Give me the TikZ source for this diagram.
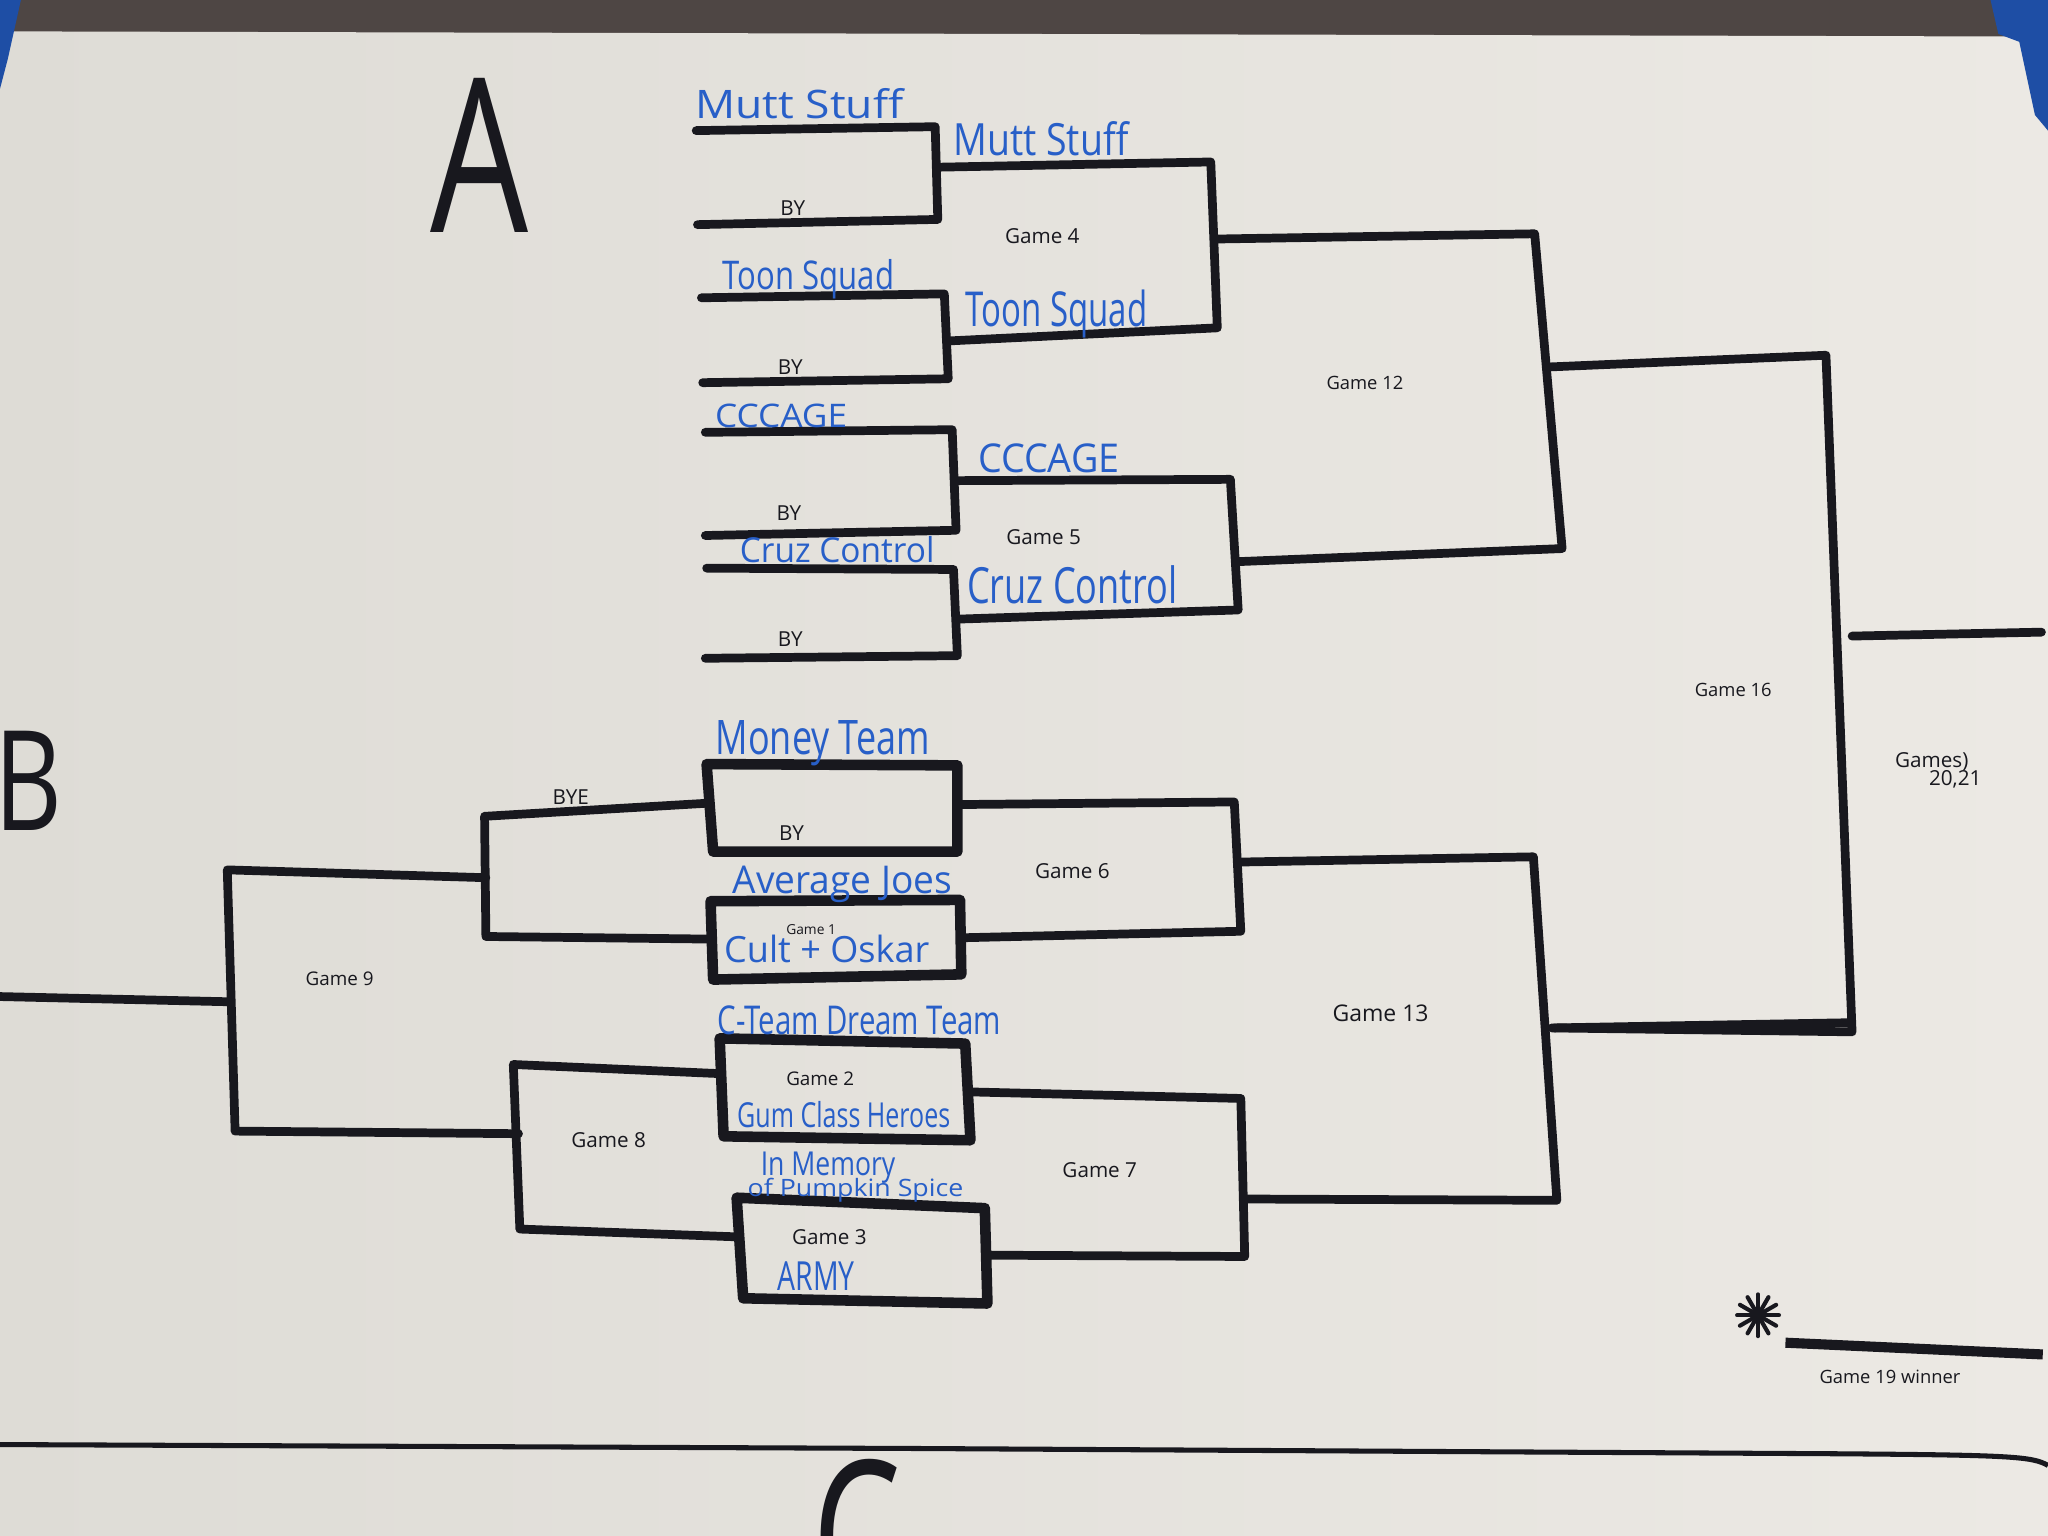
\documentclass[tikz,border=0pt]{standalone}
\usepackage{fontspec}
\usepackage{graphicx}
\newfontfamily\hand{Open Sans}

\definecolor{ink}{RGB}{24,24,30}
\definecolor{mblue}{RGB}{40,95,200}
\definecolor{carpet}{RGB}{78,70,68}
\definecolor{tape}{RGB}{30,78,165}
\definecolor{paperL}{RGB}{222,220,214}
\definecolor{paperR}{RGB}{236,233,228}

% width, height (mm), text
\newcommand\handfit[3]{\resizebox{#1mm}{#2mm}{#3}}

\begin{document}
\begin{tikzpicture}[
    x=0.01cm, y=-0.01cm,
    bk/.style={draw=ink, line width=1.9pt, line join=round, line cap=round},
    bx/.style={draw=ink, line width=2.3pt, line join=round},
    team/.style={text=mblue, font=\hand, inner sep=0pt, anchor=base},
    gl/.style={text=ink, font=\hand\fontsize{4.5}{5}\selectfont, inner sep=0pt},
    big/.style={text=ink, font=\hand, inner sep=0pt}
]

\useasboundingbox (0,0) rectangle (1568,1176);
\clip (0,0) rectangle (1568,1176);

% floor, paper, tape
\fill[carpet] (0,0) rectangle (1568,32);
\shade[left color=paperL, right color=paperR]
    (0,24) -- (1568,28) -- (1568,1176) -- (0,1176) -- cycle;
\fill[tape] (0,0) -- (16,0) -- (6,45) -- (0,68) -- cycle;
\fill[tape] (1524,0) -- (1568,0) -- (1568,100) -- (1558,88)
    -- (1546,32) -- (1530,26) -- cycle;
% edge of the next sheet
\draw[ink, line width=1.1pt] (0,1106) -- (700,1109) -- (1400,1113)
    .. controls (1540,1114) and (1556,1115) .. (1568,1122);

% big letters
\node[big] (la) at (367,119) {\handfit{7.5}{11.8}{A}};
\node[big] (lb) at (22,598) {\handfit{5.2}{7.6}{B}};
\node[big] (lc) at (656,1177) {\handfit{6.8}{11.8}{C}};

%% Bracket A
% first round
\draw[bk] (533,100) -- (716,97) -- (718,168) -- (534,172);
\draw[bk] (537,228) -- (723,225) -- (726,290) -- (538,293);
\draw[bk] (540,331) -- (729,329) -- (732,406) -- (540,410);
\draw[bk] (541,435) -- (730,436) -- (733,502) -- (540,504);
% Game 4, Game 5
\draw[bk] (719,128) -- (927,124) -- (932,251) -- (727,261);
\draw[bk] (733,368) -- (942,367) -- (948,467) -- (734,474);
% Game 12
\draw[bk] (932,183) -- (1175,179) -- (1196,420) -- (948,430);
% Game 16
\draw[bk] (1185,281) -- (1398,272) -- (1418,790) -- (1188,787);
\draw[bk] (1418,487) -- (1563,484);

\node[team] (ms1) at (612,91) {\handfit{15.9}{2.3}{Mutt Stuff}};
\node[team] (ms2) at (797,119) {\handfit{13.4}{2.6}{Mutt Stuff}};
\node[team] (ts1) at (619,222) {\handfit{13.1}{2.3}{Toon Squad}};
\node[team] (ts2) at (809,250) {\handfit{13.9}{2.8}{Toon Squad}};
\node[team] (cc1) at (598,327) {\handfit{10.1}{1.8}{CCCAGE}};
\node[team] (cc2) at (803,362) {\handfit{10.8}{2.2}{CCCAGE}};
\node[team] (cz1) at (641,431) {\handfit{14.9}{2.0}{Cruz Control}};
\node[team] (cz2) at (821,462) {\handfit{16.1}{2.9}{Cruz Control}};

\node[gl] (by1) at (607,159) {BY};
\node[gl] (by2) at (605,281) {BY};
\node[gl] (by3) at (604,393) {BY};
\node[gl] (by4) at (605,489) {BY};
\node[gl] (g4) at (798,181) {Game 4};
\node[gl] (g5) at (799,411) {Game 5};
\node[gl, font=\hand\fontsize{4}{5}\selectfont] (g12) at (1045,293) {Game 12};
\node[gl, font=\hand\fontsize{4}{5}\selectfont] (g16) at (1327,528) {Game 16};
\node[gl] (g20a) at (1479,583) {Games)};
\node[gl] (g20b) at (1497,597) {20,21};

%% Bracket B
% boxes
\draw[bx] (541,585) -- (733,586) -- (733,652) -- (546,652) -- cycle;
\draw[bx] (544,690) -- (735,689) -- (736,746) -- (546,750) -- cycle;
\draw[bx] (551,795) -- (739,799) -- (743,873) -- (554,870) -- cycle;
\draw[bx] (564,917) -- (754,925) -- (756,998) -- (569,994) -- cycle;
% BYE, Game 8, Game 9
\draw[bk] (541,615) -- (371,625) -- (372,717) -- (544,719);
\draw[bk] (551,822) -- (393,815) -- (398,941) -- (565,947);
\draw[bk] (372,672) -- (174,666) -- (180,866) -- (397,868);
\draw[bk] (0,763) -- (176,767);
% Game 6, Game 7
\draw[bk] (733,616) -- (945,614) -- (950,713) -- (736,718);
\draw[bk] (743,836) -- (950,841) -- (953,962) -- (756,961);
% Game 13
\draw[bk] (950,660) -- (1174,656) -- (1192,919) -- (955,918);
\draw[bk] (1190,787) -- (1417,783);

\node[team] (mt) at (630,578) {\handfit{16.4}{2.6}{Money Team}};
\node[team] (aj) at (645,684) {\handfit{16.8}{2.1}{Average Joes}};
\node[team] (co) at (633,737) {\handfit{15.7}{2.1}{Cult + Oskar}};
\node[team] (ct) at (658,792) {\handfit{21.7}{2.2}{C-Team Dream Team}};
\node[team] (gc) at (646,863) {\handfit{16.3}{2.0}{Gum Class Heroes}};
\node[team] (im) at (634,900) {\handfit{10.3}{1.8}{In Memory}};
\node[team] (pk) at (655,916) {\handfit{16.5}{1.4}{of Pumpkin Spice}};
\node[team] (army) at (625,988) {\handfit{5.9}{2.2}{ARMY}};

\node[gl] (by5) at (606,638) {BY};
\node[gl] (bye) at (437,610) {BYE};
\node[gl] (g6) at (821,667) {Game 6};
\node[gl, font=\hand\fontsize{3}{4}\selectfont] (g1) at (621,712) {Game 1};
\node[gl, font=\hand\fontsize{4.1}{5}\selectfont] (g9) at (260,749) {Game 9};
\node[gl, font=\hand\fontsize{5}{6}\selectfont] (g13) at (1057,776) {Game 13};
\node[gl, font=\hand\fontsize{4.1}{5}\selectfont] (g2) at (628,826) {Game 2};
\node[gl] (g8) at (466,873) {Game 8};
\node[gl] (g7) at (842,896) {Game 7};
\node[gl] (g3) at (635,947) {Game 3};

%% Game 19 winner
\coordinate (star) at (1346,1007);
\foreach \a in {0,30,...,150}
    \draw[ink, line width=0.9pt, line cap=round] (star) +(\a:16) -- +(\a+180:16);
\coordinate (w19) at (1367,1028);
\draw[ink, line width=2.2pt] (w19) -- (1564,1037);
\node[gl, font=\hand\fontsize{4}{5}\selectfont] (g19) at (1447,1054) {Game 19 winner};

\end{tikzpicture}
\end{document}
